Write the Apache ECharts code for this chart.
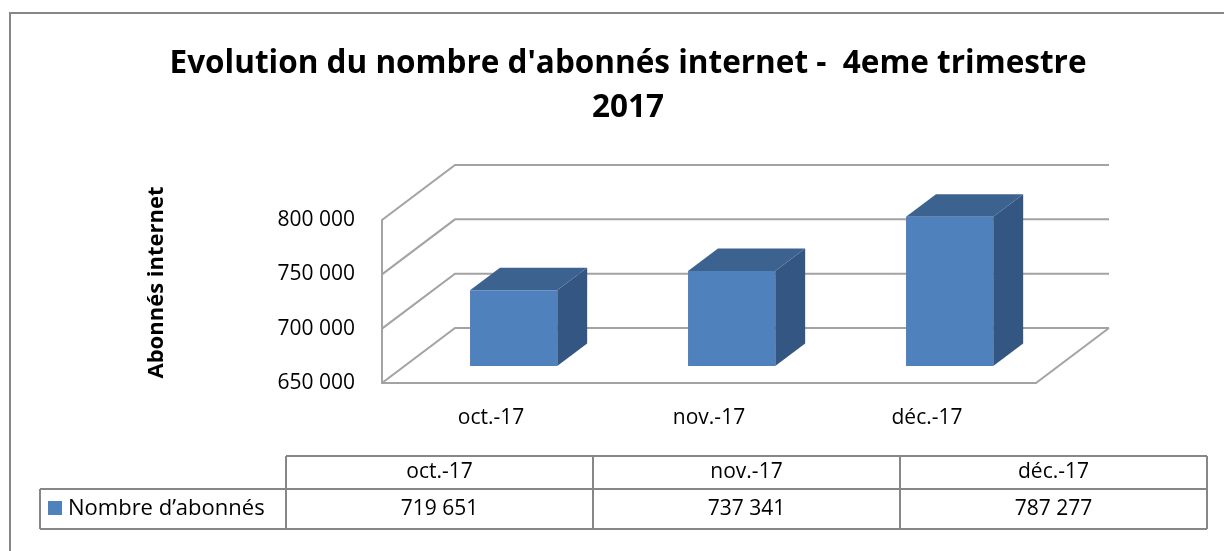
<!DOCTYPE html>
<html>
<head>
<meta charset="utf-8">
<script src="https://cdn.jsdelivr.net/npm/echarts@6/dist/echarts.min.js"></script>
<style>
  html, body { margin: 0; padding: 0; background: #fff; }
  #chart { width: 1224px; height: 551px; }
</style>
</head>
<body>
<div id="chart"></div>
<script>
var categories = ['oct.-17', 'nov.-17', 'déc.-17'];
var abonnes = [719651, 737341, 787277];
var seriesName = 'Nombre d\u2019abonnés';
var yTicks = [650000, 700000, 750000, 800000];

var FONT = '"Open Sans", sans-serif';
var GRID_COLOR = '#a3a3a3';
// pseudo 3D depth of the plot box (pixels)
var DX = 73, DY = -55;
var F0 = 0.31, F1 = 0.72; // front / back of bars as fraction of depth
var BAR_RATIO = 0.4;

function fmt(v) {
  return String(v).replace(/\B(?=(\d{3})+(?!\d))/g, ' ');
}

var myChart = echarts.init(document.getElementById('chart'));

// walls: back grid lines + left diagonals
function renderWall(params, api) {
  var cs = params.coordSys;
  var v = api.value(0);
  var y = api.coord([0, v])[1];
  var x0 = cs.x, x1 = cs.x + cs.width;
  var children = [{
    type: 'polyline',
    shape: { points: [[x0, y], [x0 + DX, y + DY], [x1 + DX, y + DY]] },
    style: { stroke: GRID_COLOR, lineWidth: 2, fill: null }
  }];
  if (params.dataIndex === 0) {
    children.push({
      type: 'line',
      shape: { x1: x1, y1: y, x2: x1 + DX, y2: y + DY },
      style: { stroke: GRID_COLOR, lineWidth: 2 }
    });
  }
  return { type: 'group', children: children };
}

function renderBar(params, api) {
  var i = api.value(0);
  var top = api.coord([i, api.value(1)]);
  var base = api.coord([i, yTicks[0]]);
  var bw = api.size([1, 0])[0] * BAR_RATIO;
  var ox = F0 * DX, oy = F0 * DY;
  var ddx = (F1 - F0) * DX, ddy = (F1 - F0) * DY;
  var xl = top[0] - bw / 2 + ox, xr = top[0] + bw / 2 + ox;
  var yt = top[1] + oy, yb = base[1] + oy;
  return {
    type: 'group',
    children: [{
      type: 'polygon',
      shape: { points: [[xr, yt], [xr + ddx, yt + ddy], [xr + ddx, yb + ddy], [xr, yb]] },
      style: { fill: '#335782' }
    }, {
      type: 'polygon',
      shape: { points: [[xl, yt], [xl + ddx, yt + ddy], [xr + ddx, yt + ddy], [xr, yt]] },
      style: { fill: '#3c628f' }
    }, {
      type: 'rect',
      shape: { x: xl, y: yt, width: xr - xl, height: yb - yt },
      style: { fill: '#4f81bd' }
    }]
  };
}

// data table under the chart
var tblL = 286, tblLegend = 40, tblR = 1207;
var tblTop = 456, tblMid = 489, tblBot = 529;
var colW = (tblR - tblL) / categories.length;
var lineStyle = { stroke: '#878787', lineWidth: 2 };
var tableEls = [
  { type: 'line', shape: { x1: tblL, y1: tblTop, x2: tblR, y2: tblTop }, style: lineStyle },
  { type: 'line', shape: { x1: tblLegend, y1: tblMid, x2: tblR, y2: tblMid }, style: lineStyle },
  { type: 'line', shape: { x1: tblLegend, y1: tblBot, x2: tblR, y2: tblBot }, style: lineStyle },
  { type: 'line', shape: { x1: tblLegend, y1: tblMid, x2: tblLegend, y2: tblBot }, style: lineStyle },
  { type: 'rect', shape: { x: 48, y: 501, width: 14, height: 14 }, style: { fill: '#4f81bd' } },
  { type: 'text', x: 68, y: (tblMid + tblBot) / 2, style: { text: seriesName, font: '22px ' + FONT, fill: '#000', textVerticalAlign: 'middle' } }
];
for (var c = 0; c <= categories.length; c++) {
  var cx = tblL + c * colW;
  tableEls.push({ type: 'line', shape: { x1: cx, y1: tblTop, x2: cx, y2: tblBot }, style: lineStyle });
}
categories.forEach(function(cat, k) {
  var mx = tblL + (k + 0.5) * colW;
  tableEls.push({ type: 'text', x: mx, y: (tblTop + tblMid) / 2, style: { text: cat, font: '21px ' + FONT, fill: '#000', textAlign: 'center', textVerticalAlign: 'middle' } });
  tableEls.push({ type: 'text', x: mx, y: (tblMid + tblBot) / 2, style: { text: fmt(abonnes[k]), font: '21px ' + FONT, fill: '#000', textAlign: 'center', textVerticalAlign: 'middle' } });
});
// chart frame (top and left edges)
tableEls.push({ type: 'polyline', shape: { points: [[10, 551], [10, 13], [1224, 13]] }, style: { stroke: '#878787', lineWidth: 2, fill: null } });

var option = {
  animation: false,
  backgroundColor: '#fff',
  title: {
    text: 'Evolution du nombre d\'abonnés internet -  4eme trimestre\n2017',
    left: 623,
    textAlign: 'center',
    top: 37,
    textStyle: { fontFamily: FONT, fontSize: 31.5, fontWeight: 'bold', color: '#000', lineHeight: 44 }
  },
  grid: { left: 382, right: 188, top: 220, bottom: 168 },
  xAxis: {
    type: 'category',
    data: categories,
    axisLine: { lineStyle: { color: GRID_COLOR, width: 2 } },
    axisTick: { show: false },
    axisLabel: { color: '#000', fontFamily: FONT, fontSize: 21, margin: 25 }
  },
  yAxis: {
    type: 'value',
    min: yTicks[0],
    max: yTicks[yTicks.length - 1],
    interval: 50000,
    name: 'Abonnés internet',
    nameLocation: 'middle',
    nameGap: 214,
    nameRotate: 90,
    nameTextStyle: { color: '#000', fontFamily: FONT, fontSize: 22, fontWeight: 'bold', padding: [0, 0, 0, 38] },
    axisLine: { show: true, lineStyle: { color: GRID_COLOR, width: 2 } },
    axisTick: { show: false },
    splitLine: { show: false },
    axisLabel: { color: '#000', fontFamily: FONT, fontSize: 21, margin: 27, formatter: function(v) { return fmt(v); } }
  },
  series: [{
    type: 'custom',
    name: 'walls',
    renderItem: renderWall,
    data: yTicks.map(function(v) { return [v]; }),
    encode: { y: 0 },
    silent: true,
    z: 1
  }, {
    type: 'custom',
    name: seriesName,
    renderItem: renderBar,
    data: abonnes.map(function(v, k) { return [k, v]; }),
    encode: { x: 0, y: 1 },
    z: 2
  }],
  graphic: tableEls
};
myChart.setOption(option);
window.onresize = myChart.resize;
</script>
</body>
</html>
